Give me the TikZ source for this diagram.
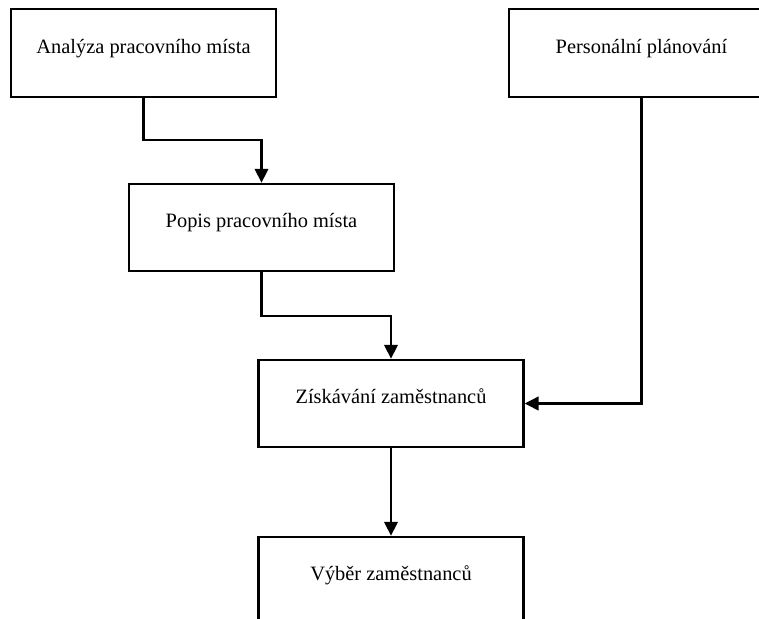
\documentclass[tikz,border=0pt]{standalone}
\usepackage{fontspec}
\setmainfont{Liberation Serif}
\usetikzlibrary{arrows.meta}
\begin{document}
\begin{tikzpicture}[x=0.75pt,y=-0.75pt,
  box/.style={draw=black,line width=1.6pt,rectangle,fill=white,inner sep=0pt,
    minimum width=198.75pt,minimum height=65.5pt,
    text height=10pt,text depth=10pt,
    font=\fontsize{15.3}{18}\selectfont},
  conn/.style={draw=black,line width=2.2pt,-{Triangle[length=10.5pt,width=10pt]}}]
\useasboundingbox (0,0) rectangle (759,618);
\clip (0,0) rectangle (759,618);
\fill[white] (0,0) rectangle (759,618);
\node[box] (A) at (143.5,53) {Analýza pracovního místa};
\node[box] (P) at (641.5,53) {Personální plánování};
\node[box] (B) at (261.5,227.5) {Popis pracovního místa};
\node[box] (Z) at (391,403.5) {Získávání zaměstnanců};
\node[box] (V) at (391,580.5) {Výběr zaměstnanců};
\coordinate (m1) at (0,140);
\coordinate (m2) at (0,316);
\draw[conn] (A.south) |- (m1 -| B.north) -- (B.north);
\draw[conn] (B.south) |- (m2 -| Z.north) -- (Z.north);
\draw[conn] (P.south) |- (Z.east);
\draw[conn] (Z.south) -- (V.north);
\end{tikzpicture}
\end{document}
